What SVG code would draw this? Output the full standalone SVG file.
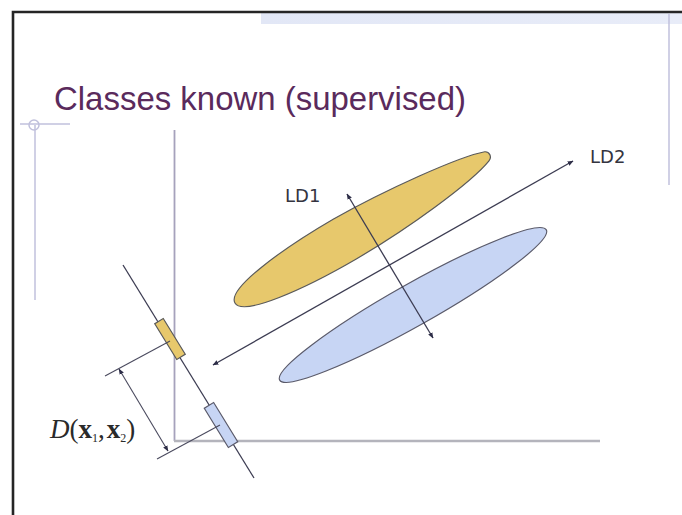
<svg xmlns="http://www.w3.org/2000/svg" width="682" height="515" viewBox="0 0 682 515">
  <style>
    .title { font-family: "Liberation Sans", Arial, sans-serif; font-size: 33px; fill: #5a2a5c; }
    .lbl { font-family: "DejaVu Sans", Tahoma, sans-serif; font-size: 18px; fill: #34343f; }
    .math { font-family: "Liberation Serif", "Times New Roman", serif; font-size: 27px; fill: #2a2a2a; }
    .conn { stroke: #3c3c52; stroke-width: 1.3; fill: none; }
    .thin { stroke: #4a4a5e; stroke-width: 1.1; fill: none; }
    .deco { stroke: #c0c0dc; stroke-width: 1.5; fill: none; }
    .cls1 { fill: #e7c86c; stroke: #5a5a5a; stroke-width: 1.2; }
    .cls2 { fill: #c7d5f4; stroke: #5a5a6a; stroke-width: 1.2; }
  </style>
  <defs>
    <marker id="ah" viewBox="0 0 10 10" refX="9" refY="5" markerWidth="6" markerHeight="6" markerUnits="userSpaceOnUse" orient="auto-start-reverse">
      <path d="M0,1 L10,5 L0,9 z" fill="#2e2e48"/>
    </marker>
    <linearGradient id="band" x1="0" y1="0" x2="1" y2="0">
      <stop offset="0" stop-color="#e2e7f6"/>
      <stop offset="1" stop-color="#e8ecf8"/>
    </linearGradient>
  </defs>

  <rect x="0" y="0" width="682" height="515" fill="#ffffff"/>

  <g id="slide-frame">
    <rect x="261" y="13" width="421" height="11" fill="url(#band)"/>
    <path d="M13,515 V12 H682" stroke="#252525" stroke-width="2.6" fill="none"/>
    <line class="deco" x1="669" y1="14" x2="669" y2="185"/>
    <circle cx="34" cy="125" r="5" class="deco"/>
    <line class="deco" x1="20" y1="124" x2="70" y2="124"/>
    <line class="deco" x1="35" y1="125" x2="35" y2="300"/>
  </g>

  <g id="title">
    <text class="title" x="54" y="110" textLength="412" lengthAdjust="spacingAndGlyphs">Classes known (supervised)</text>
  </g>

  <g id="axes">
    <line x1="174.5" y1="130" x2="174.5" y2="441" stroke="#a6a2bc" stroke-width="1.8"/>
    <line x1="174" y1="441" x2="600" y2="441" stroke="#b4b4bc" stroke-width="2.6"/>
  </g>

  <g id="class1">
    <path class="cls1" transform="translate(362 229) rotate(-30.2)" d="M-147,0 C-147,-16 -80,-23 -20,-23 C40,-22 120,-14 145,-5 C149,-3 149,3 144,5 C118,15 40,23 -20,23 C-80,23 -147,16 -147,0 Z"/>
  </g>

  <g id="class2">
    <ellipse class="cls2" cx="413" cy="305" rx="153" ry="21" transform="rotate(-29.4 413 305)"/>
  </g>

  <g id="projection-axis">
    <line class="conn" x1="123" y1="265" x2="254" y2="478"/>
  </g>

  <g id="bar1">
    <rect class="cls1" x="-21" y="-5" width="42" height="10" transform="translate(170 339) rotate(58.4)"/>
  </g>

  <g id="bar2">
    <rect class="cls2" x="-23" y="-5.5" width="46" height="11" transform="translate(221 425) rotate(58.4)"/>
  </g>

  <g id="connectors">
    <line id="LD2-line" class="conn" x1="213" y1="365" x2="573" y2="161" marker-start="url(#ah)" marker-end="url(#ah)"/>
    <line id="LD1-line" class="conn" x1="347" y1="194" x2="433" y2="338" marker-start="url(#ah)" marker-end="url(#ah)"/>
    <line id="ext1" class="thin" x1="105" y1="376" x2="170" y2="341"/>
    <line id="ext2" class="thin" x1="157" y1="459" x2="220" y2="425"/>
    <line id="dim" class="thin" x1="119" y1="369" x2="168" y2="451" marker-start="url(#ah)" marker-end="url(#ah)"/>
  </g>

  <g id="label-LD1">
    <text class="lbl" x="285" y="202">LD1</text>
  </g>
  <g id="label-LD2">
    <text class="lbl" x="590" y="163">LD2</text>
  </g>
  <g id="label-distance">
    <text class="math" x="50" y="438"><tspan font-style="italic">D</tspan>(<tspan font-weight="bold">x</tspan><tspan font-size="12" dy="4">1</tspan><tspan dy="-4">,</tspan><tspan font-weight="bold" dx="2">x</tspan><tspan font-size="12" dy="4">2</tspan><tspan dy="-4">)</tspan></text>
  </g>
</svg>
